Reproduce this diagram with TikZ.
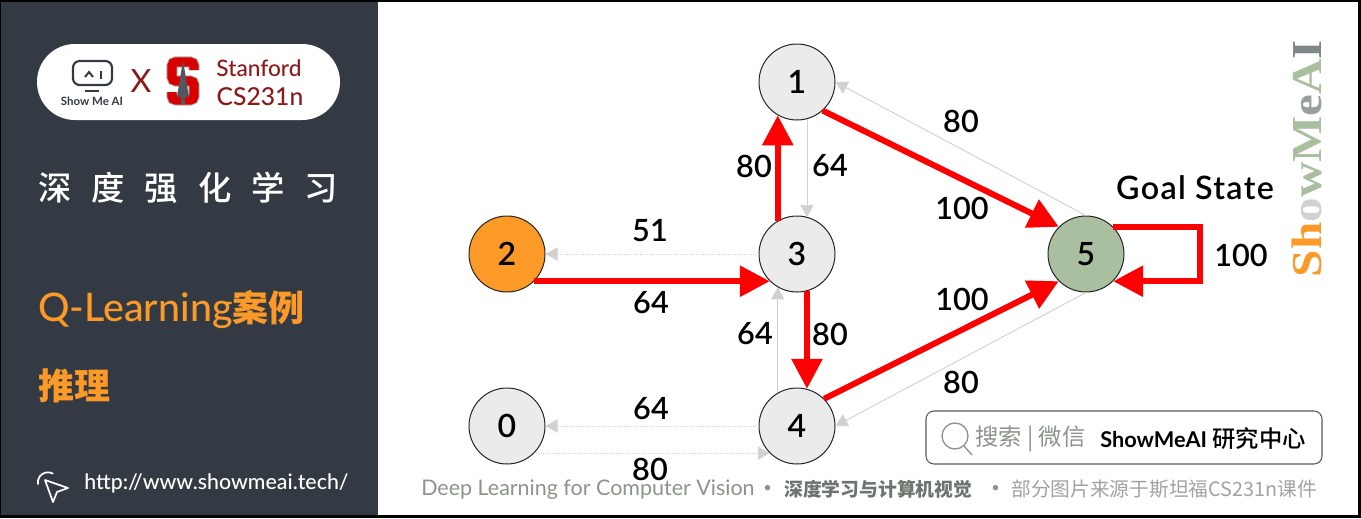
\documentclass[tikz,border=0pt]{standalone}
\usepackage{fontspec}
\usepackage{graphicx}
\setmainfont{Lato}
\newfontfamily\cjk{Noto Sans CJK SC}
\newfontfamily\cjkm{Noto Sans CJK SC Medium}
\newfontfamily\wmserif{Liberation Serif}
\newfontfamily\latm{Lato Semibold}
\newfontfamily\lats{Lato Medium}
\newfontfamily\latw[LetterSpace=4]{Lato Semibold}
\usetikzlibrary{arrows.meta}
\definecolor{panel}{HTML}{333A43}
\definecolor{orangeA}{HTML}{FB9A26}
\definecolor{nodegray}{HTML}{EBEBEB}
\definecolor{goalgreen}{HTML}{A9BFA0}
\definecolor{edgegray}{HTML}{D4D0D0}
\definecolor{foot}{HTML}{8B958A}
\definecolor{footdark}{HTML}{6D756E}
\definecolor{footlight}{HTML}{A0A4A0}
\definecolor{stanred}{HTML}{8C1A1A}
\definecolor{wmgray}{HTML}{7F8789}
\tikzset{
  state/.style={circle,draw=black!85,line width=.75pt,minimum size=57pt,inner sep=0pt,fill=nodegray,font=\latm\fontsize{24}{24}\selectfont},
  redge/.style={red,line width=4.5pt,-{Triangle[length=22.5pt,width=22.5pt]}},
  gedge/.style={edgegray,line width=.7pt,-{Triangle[length=9pt,width=10pt]}},
  hedge/.style={gedge,densely dotted},
  qval/.style={font=\latm\fontsize{23}{23}\selectfont,text=black,inner sep=0pt},
  ftext/.style={inner sep=0pt,anchor=west},
  slogo/.style={line width=#1,rounded corners=3pt}
}
\begin{document}
\begin{tikzpicture}[x=.75pt,y=-.75pt]
\useasboundingbox (0,0) rectangle (1361,518);
\fill[black] (0,0) rectangle (1361,518);
\fill[white] (378,2) rectangle (1358,515);
\fill[panel] (1,2) rectangle (378,515);
% logo pill
\fill[white,rounded corners=28.4pt] (37,44) rectangle (340,120);
\draw[panel,line width=1.6pt,rounded corners=5pt] (73,61) rectangle (112,85);
\draw[panel,line width=1.5pt] (85,77) -- (89,72) -- (93,77);
\draw[panel,line width=1.6pt] (101,71) -- (101,79);
\draw[panel,line width=1.6pt] (85,91) -- (99,91);
\node[inner sep=0pt,text=panel,font=\fontsize{8.6}{9}\selectfont\bfseries] (logoa) at (92,101) {Show Me AI};
\node[inner sep=0pt,text=stanred,font=\fontsize{24}{24}\selectfont] (logox) at (141,81) {X};
\draw[foot!70,slogo=8.5pt] (194,70) -- (194,62) -- (172,62) -- (172,81) -- (194,81) -- (194,100) -- (172,100) -- (172,92);
\draw[red!85!black,slogo=7pt] (194,70) -- (194,62) -- (172,62) -- (172,81) -- (194,81) -- (194,100) -- (172,100) -- (172,92);
\fill[panel!85] (183,60) -- (177,97) -- (181,97) -- (181,104) -- (185,104) -- (185,97) -- (189,97) -- cycle;
\node[inner sep=0pt,text=stanred,font=\lats\fontsize{17}{17}\selectfont] (logos) at (259,68) {Stanford};
\node[inner sep=0pt,text=stanred,font=\lats\fontsize{18.5}{18}\selectfont] (logoc) at (260,97) {CS231n};
% left panel texts
\node[inner sep=0pt,text=white,anchor=west,font=\cjkm\fontsize{25}{25}\selectfont] (title) at (38,188) {深\hspace{15pt}度\hspace{15pt}强\hspace{15pt}化\hspace{15pt}学\hspace{15pt}习};
\node[inner sep=0pt,text=orangeA,anchor=west,font=\lats\fontsize{29.5}{29}\selectfont] (ql) at (38,310) {Q-Learning{\cjk\bfseries\fontsize{27}{26}\selectfont 案例}};
\node[inner sep=0pt,text=orangeA,anchor=west,font=\cjk\bfseries\fontsize{27}{27}\selectfont] (tl) at (38,386) {推理};
\node[inner sep=0pt,text=white,anchor=west,font=\lats\fontsize{16}{17}\selectfont] (url) at (84,483) {http://www.showmeai.tech/};
\draw[white,line width=1.3pt,line join=round] (45,480) -- (68,488) -- (57,492) -- (53,502) -- cycle;
\draw[white,line width=1.3pt,line cap=round] (38,484) arc (170:300:10);
% states
\node[state] (n1) at (797,82) {1};
\node[state,fill=orangeA] (n2) at (507,254) {2};
\node[state] (n3) at (797,254) {3};
\node[state] (n4) at (797,426) {4};
\node[state] (n0) at (507,426) {0};
\node[state,fill=goalgreen] (n5) at (1086,254) {5};
% gray edges
\draw[hedge] (n3.west) -- (n2.east);
\draw[hedge] (n4.west) -- (n0.east);
\draw[hedge] (n0.-45) -- (n4.-135);
\draw[gedge] (n1.-75) -- (n3.75);
\draw[gedge] (n4.120) -- (n3.-120);
\draw[gedge] (n5.north) -- (n1.east);
\draw[gedge] (n5.south) -- (n4.east);
% red edges
\draw[redge] (n2.-45) -- (n3.-135);
\draw[redge] (n3.120) -- (n1.-120);
\draw[redge] (n3.-75) -- (n4.75);
\draw[redge] (n1.-48) -- (n5.135);
\draw[redge] (n4.45) -- (n5.-135);
\coordinate (loop) at (1200,254);
\draw[redge] (n5.45) -| (loop) |- (n5.-45);
% labels
\node[qval] (q1) at (961,121) {80};
\node[qval] (q2) at (962,208) {100};
\node[qval] (q3) at (754,166) {80};
\node[qval] (q4) at (830,166) {64};
\node[qval] (q5) at (650,231) {51};
\node[qval] (q6) at (651,303) {64};
\node[qval] (q7) at (755,334) {64};
\node[qval] (q8) at (830,334) {80};
\node[qval] (q9) at (962,299) {100};
\node[qval] (q10) at (961,382) {80};
\node[qval] (q11) at (651,409) {64};
\node[qval] (q12) at (650,469) {80};
\node[qval] (q13) at (1241,255) {100};
\node[qval,font=\latw\fontsize{24.2}{24}\selectfont] (goal) at (1195,188) {Goal State};
% watermark
\node[inner sep=0pt,rotate=90,font=\wmserif\bfseries\fontsize{32}{32}\selectfont] (wm) at (1307,158.5) {\scalebox{1.15}[1]{\textcolor{orangeA}{Sh}\textcolor{edgegray}{o}\textcolor{goalgreen}{wM}\textcolor{wmgray!80}{e}\textcolor{goalgreen}{A}\textcolor{wmgray}{I}}};
% search box
\draw[black!65,line width=.8pt,rounded corners=6pt] (926,411) rectangle (1322,464);
\draw[foot,line width=1pt] (955,436) circle (13);
\draw[foot,line width=1pt] (964,446) -- (972,455);
\node[ftext,text=foot,font=\cjk\fontsize{17.5}{18}\selectfont] (s1) at (975,439) {搜索 | 微信};
\node[ftext,text=black,font=\fontsize{16.3}{17}\selectfont\bfseries] (s2) at (1100,439) {ShowMeAI {\cjkm\mdseries\fontsize{17.5}{18}\selectfont 研究中心}};
% footer
\node[ftext,text=foot,font=\fontsize{16.1}{17}\selectfont] (f1) at (421,490) {Deep Learning for Computer Vision};
\node[ftext,text=foot,font=\fontsize{11}{12}\selectfont] (f2) at (763,489) {•};
\node[ftext,text=footdark,font=\cjk\bfseries\fontsize{14.1}{15}\selectfont] (f3) at (784,489) {深度学习与计算机视觉};
\node[ftext,text=foot,font=\fontsize{11}{12}\selectfont] (f4) at (991,489) {•};
\node[ftext,text=footlight,font=\cjk\fontsize{14.8}{15}\selectfont] (f5) at (1011,489) {部分图片来源于斯坦福CS231n课件};
\end{tikzpicture}
\end{document}
